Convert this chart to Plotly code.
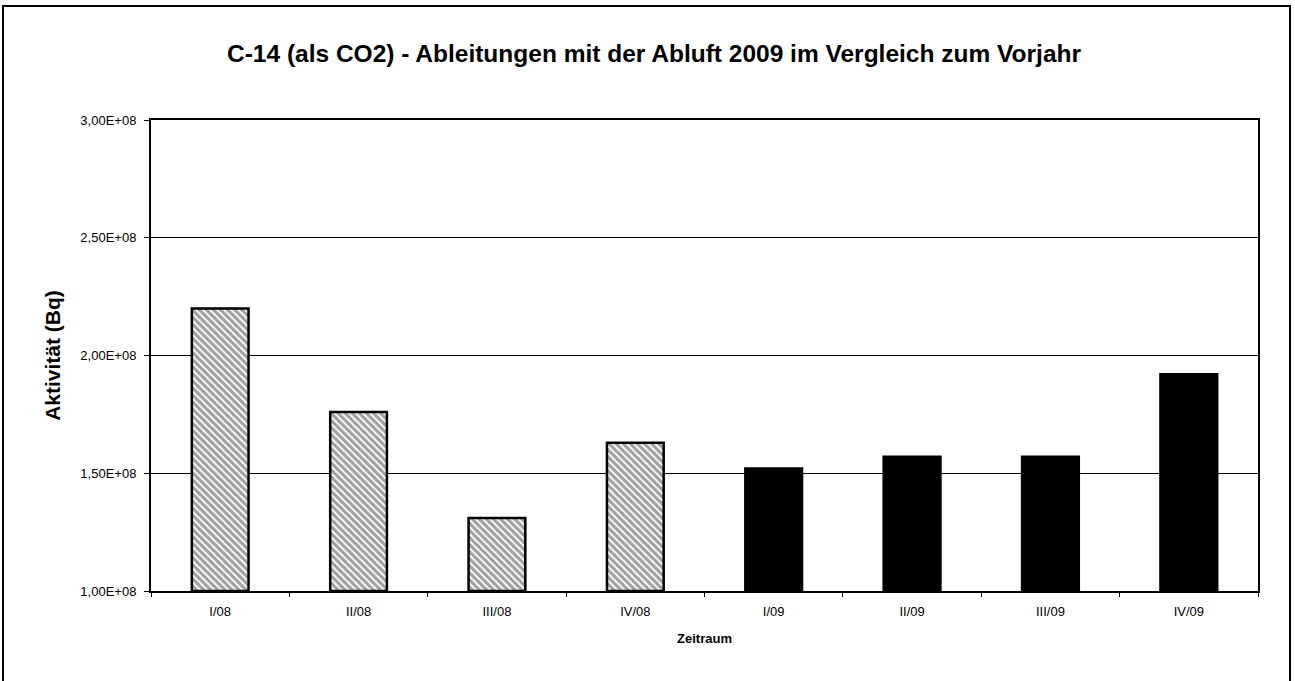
import plotly.graph_objects as go

categories = ["I/08", "II/08", "III/08", "IV/08", "I/09", "II/09", "III/09", "IV/09"]
values_2008 = [2.20e8, 1.76e8, 1.31e8, 1.63e8]
values_2009 = [1.52e8, 1.57e8, 1.57e8, 1.92e8]
y_tickvals = [1.0e8, 1.5e8, 2.0e8, 2.5e8, 3.0e8]
y_ticktext = ["1,00E+08", "1,50E+08", "2,00E+08", "2,50E+08", "3,00E+08"]

title_text = "C-14 (als CO2) - Ableitungen mit der Abluft 2009 im Vergleich zum Vorjahr"
font_fam = "Arial, Liberation Sans, sans-serif"

values = values_2008 + values_2009
n08 = len(values_2008)
n09 = len(values_2009)

fig = go.Figure()
fig.add_trace(go.Bar(
    x=categories,
    y=[v - 1.0e8 for v in values],
    base=1.0e8,
    width=0.41,
    marker=dict(
        color=["white"] * n08 + ["black"] * n09,
        line=dict(color="black", width=2.5),
        pattern=dict(shape=["\\"] * n08 + [""] * n09, fgcolor="black",
                     size=5, solidity=0.65),
    ),
    hovertext=[f"{v:.2e}" for v in values],
    showlegend=False,
))

W, H = 1295, 681
L, T = 151, 120
pw, ph = 1107, 471
R = W - L - pw
B = H - T - ph

def px_x(x):
    return (x - L) / pw

def px_y(y):
    return (T + ph - y) / ph

fig.update_layout(
    width=W, height=H,
    margin=dict(l=L, r=R, t=T, b=B),
    paper_bgcolor="white", plot_bgcolor="white",
    font=dict(family=font_fam, color="black"),
    title=dict(text="<b>" + title_text + "</b>", x=654 / W,
               xanchor="center", y=1 - 53 / H, yanchor="middle",
               font=dict(size=24.5, family=font_fam, color="black")),
    bargap=0.59,
    showlegend=False,
)

fig.update_xaxes(
    type="category",
    categoryorder="array", categoryarray=categories,
    showline=True, linecolor="black", linewidth=1.5, mirror=True,
    ticks="outside", tickson="boundaries", ticklen=4, tickcolor="black",
    tickfont=dict(size=13, family=font_fam),
    ticklabelstandoff=8,
    showgrid=False,
    title=dict(text="<b>Zeitraum</b>", font=dict(size=13, family=font_fam), standoff=16),
)
fig.update_yaxes(
    range=[1.0e8, 3.0e8],
    tickvals=y_tickvals, ticktext=y_ticktext,
    showline=True, linecolor="black", linewidth=2, mirror=True,
    ticks="outside", ticklen=5, tickcolor="black",
    tickfont=dict(size=13, family=font_fam),
    ticklabelstandoff=5,
    showgrid=True, gridcolor="black", gridwidth=1,
    zeroline=False,
    title=dict(text="<b>Aktivität (Bq)</b>", font=dict(size=21, family=font_fam), standoff=14),
)

# outer frame of the chart
fig.add_shape(type="rect", xref="paper", yref="paper",
              x0=px_x(3), x1=px_x(1290), y0=px_y(700), y1=px_y(6),
              line=dict(color="black", width=2), fillcolor="rgba(0,0,0,0)", layer="above")

fig.write_html("out.html",
               config={"displayModeBar": False},
               post_script="document.body.style.margin='0';document.body.style.overflow='hidden';")
